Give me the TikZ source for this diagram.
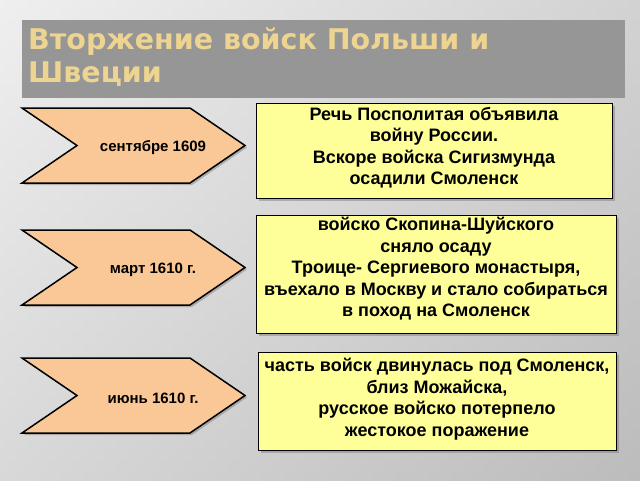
\documentclass[tikz,border=0pt]{standalone}
\usepackage{fontspec}
\setmainfont{Liberation Sans}
\newfontfamily\titlefont{DejaVu Sans}
\usetikzlibrary{shadows}
\definecolor{peach}{HTML}{FAC896}
\definecolor{lemon}{HTML}{FFFF99}
\definecolor{titlegray}{HTML}{969696}
\definecolor{titletext}{HTML}{EDD490}
\tikzset{
  chev/.style={draw=black, line width=1.5pt, fill=peach, drop shadow={shadow xshift=2pt, shadow yshift=-2pt, opacity=.5}},
  infobox/.style={draw=black, line width=1.2pt, fill=lemon, drop shadow={shadow xshift=2pt, shadow yshift=-2pt, opacity=.5}},
  lbl/.style={font=\bfseries\fontsize{15}{18}\selectfont, align=center},
  boxtxt/.style={font=\bfseries\fontsize{18}{21.5}\selectfont, align=center, inner sep=0}
}
\begin{document}
\begin{tikzpicture}[x=1pt,y=-1pt]
\useasboundingbox (0,0) rectangle (640,480);
\shade[left color=white!85!gray, right color=gray!60] (0,0) rectangle (640,480);
\shade[top color=white!90!gray, bottom color=gray!45, opacity=.5] (0,0) rectangle (640,480);
\node[fill=titlegray, minimum width=603pt, minimum height=78pt, anchor=north west, inner sep=0] (title) at (22,20) {};
\node[anchor=north west, text=titletext, font=\titlefont\bfseries\fontsize{28.5}{33}\selectfont, align=left, inner sep=0] (tt) at (28,28) {Вторжение войск Польши и\\Швеции};
% chevrons
\foreach \n/\t/\lab in {c1/108/сентябре 1609, c2/230/март 1610 г., c3/358/июнь 1610 г.}{
  \filldraw[chev] (22,\t) -- (190,\t) -- (245,\t+37.5) -- (190,\t+75) -- (22,\t+75) -- (77,\t+37.5) -- cycle;
  \node[lbl] (\n) at (153,\t+40) {\lab};
}
\node[infobox, minimum width=356pt, minimum height=95pt, anchor=north west, inner sep=0] (b1) at (256,103) {};
\node[boxtxt, anchor=north] at (434,107) {Речь Посполитая объявила\\ войну России.\\Вскоре войска Сигизмунда\\ осадили Смоленск};
\node[infobox, minimum width=360pt, minimum height=118pt, anchor=north west, inner sep=0] (b2) at (256,215) {};
\node[boxtxt, anchor=north] at (436,217) {войско Скопина-Шуйского\\ сняло осаду\\Троице- Сергиевого монастыря,\\въехало в Москву и стало собираться\\в поход на Смоленск};
\node[infobox, minimum width=358pt, minimum height=98pt, anchor=north west, inner sep=0] (b3) at (258,352) {};
\node[boxtxt, anchor=north] at (437,358) {часть войск двинулась под Смоленск,\\ близ Можайска,\\русское войско потерпело\\жестокое поражение};
\end{tikzpicture}
\end{document}
